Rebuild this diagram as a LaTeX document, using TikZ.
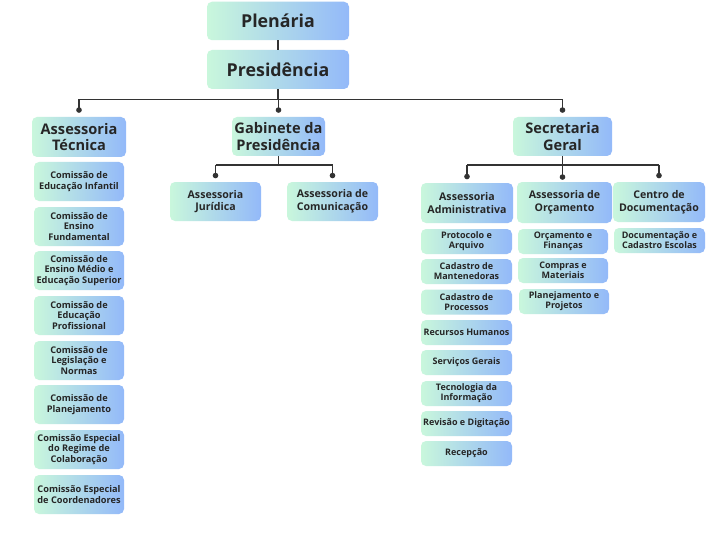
\documentclass[tikz,border=0pt]{standalone}
\usepackage{fontspec}
\setmainfont{Open Sans}
\usetikzlibrary{arrows.meta,calc}
\definecolor{gmint}{HTML}{C9F7DC}
\definecolor{gblue}{HTML}{93B9F9}
\definecolor{txt}{HTML}{262626}
\definecolor{lin}{HTML}{333333}
\begin{document}
\begin{tikzpicture}[x=1pt,y=-1pt,
  box/.style={rectangle, rounded corners=5pt, left color=gmint, right color=gblue,
    draw=none, text=txt, align=center, inner sep=0pt},
  lvA/.style={box, font=\fontsize{17.8}{20}\selectfont\bfseries},
  lvB/.style={box, font=\fontsize{14.6}{16.3}\selectfont\bfseries},
  lvC/.style={box, font=\fontsize{10.6}{12.6}\selectfont\bfseries},
  lvD/.style={box, font=\fontsize{9.2}{10.3}\selectfont\bfseries, minimum width=90pt, minimum height=39pt},
  lvE/.style={box, font=\fontsize{9}{9.8}\selectfont\bfseries, minimum width=91pt, minimum height=25pt},
  conn/.style={draw=lin, line width=1.1pt},
  dotend/.style={conn, -{Circle[length=5.5pt]}}
]
\useasboundingbox (0,0) rectangle (724,543);
\fill[white] (0,0) rectangle (724,543);

% top levels
\node[lvA, minimum width=142pt, minimum height=38.5pt] (plen) at (278,21) {Plenária};
\node[lvA, minimum width=142pt, minimum height=39pt] (pres) at (278,69.5) {Presidência};

\node[lvB, minimum width=94pt, minimum height=40pt] (at) at (79,137) {Assessoria\\Técnica};
\node[lvB, minimum width=93pt, minimum height=39pt] (gab) at (278.5,136.5) {Gabinete da\\Presidência};
\node[lvB, minimum width=99pt, minimum height=39pt] (sg) at (562.5,136.5) {Secretaria\\Geral};

% gabinete children
\node[lvC, minimum width=91pt, minimum height=39pt] (jur) at (215.5,201.5) {Assessoria\\Jurídica};
\node[lvC, minimum width=91pt, minimum height=39pt] (com) at (332.5,201.5) {Assessoria de\\Comunicação};

% secretaria children
\node[lvC, minimum width=92pt, minimum height=40pt] (adm) at (467,203) {Assessoria\\Administrativa};
\node[lvC, minimum width=95pt, minimum height=41pt] (orc) at (564.5,202.5) {Assessoria de\\Orçamento};
\node[lvC, minimum width=92pt, minimum height=40pt] (cdoc) at (659,202) {Centro de\\Documentação};

% comissoes
\node[lvD] (c1) at (79,181.5) {Comissão de\\Educação Infantil};
\node[lvD] (c2) at (79,226.5) {Comissão de\\Ensino\\Fundamental};
\node[lvD] (c3) at (79,270.5) {Comissão de\\Ensino Médio e\\Educação Superior};
\node[lvD] (c4) at (79,315.5) {Comissão de\\Educação\\Profissional};
\node[lvD] (c5) at (79,360.5) {Comissão de\\Legislação e\\Normas};
\node[lvD] (c6) at (79,404.5) {Comissão de\\Planejamento};
\node[lvD] (c7) at (79,449.5) {Comissão Especial\\do Regime de\\Colaboração};
\node[lvD] (c8) at (79,494.5) {Comissão Especial\\de Coordenadores};

% administrativa subs
\node[lvE] (a1) at (466.5,241.5) {Protocolo e\\Arquivo};
\node[lvE] (a2) at (466.5,271.5) {Cadastro de\\Mantenedoras};
\node[lvE] (a3) at (466.5,302) {Cadastro de\\Processos};
\node[lvE] (a4) at (466.5,332.5) {Recursos Humanos};
\node[lvE] (a5) at (466.5,362.5) {Serviços Gerais};
\node[lvE] (a6) at (466.5,393.5) {Tecnologia da\\Informação};
\node[lvE] (a7) at (466.5,423.5) {Revisão e Digitação};
\node[lvE] (a8) at (466.5,453.5) {Recepção};

% orcamento subs
\node[lvE, minimum width=90pt] (o1) at (563,241.5) {Orçamento e\\Finanças};
\node[lvE, minimum width=90pt] (o2) at (563,270.5) {Compras e\\Materiais};
\node[lvE, minimum width=90pt] (o3) at (564,301.5) {Planejamento e\\Projetos};

% centro subs
\node[lvE] (d1) at (659.5,240.5) {Documentação e\\Cadastro Escolas};

% connectors
\draw[conn] (plen.south) -- (pres.north);
\draw[conn] (pres.south) -- (pres.south |- 0,99.5) coordinate (j0);
\draw[conn] (at.north |- j0) -- (sg.north |- j0);
\draw[dotend] (at.north |- j0) -- ($(at.north)+(0,-4)$);
\draw[dotend] (gab.north |- j0) -- ($(gab.north)+(0,-4)$);
\draw[dotend] (sg.north |- j0) -- ($(sg.north)+(0,-4)$);

\draw[conn] (gab.south) -- (gab.south |- 0,165) coordinate (j1);
\draw[conn] (jur.north |- j1) -- (com.north |- j1);
\draw[dotend] (jur.north |- j1) -- ($(jur.north)+(0,-3.5)$);
\draw[dotend] (com.north |- j1) -- ($(com.north)+(0,-3.5)$);

\draw[conn] (sg.south) -- (sg.south |- 0,165) coordinate (j2);
\draw[conn] (adm.north |- j2) -- (cdoc.north |- j2);
\draw[dotend] (adm.north |- j2) -- ($(adm.north)+(0,-3.5)$);
\draw[dotend] (sg.south |- j2) -- ($(orc.north -| sg.south)+(0,-2)$);
\draw[dotend] (cdoc.north |- j2) -- ($(cdoc.north)+(0,-3.5)$);
\end{tikzpicture}
\end{document}
